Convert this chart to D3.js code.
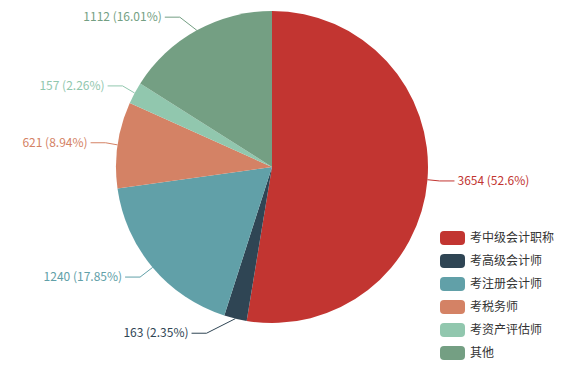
<!doctype html>
<html lang="zh">
<head>
<meta charset="utf-8">
<title>pie</title>
<script src="https://cdn.jsdelivr.net/npm/d3@7"></script>
<style>
  body { margin: 0; background: #fff; }
  text { font-family: "Noto Sans CJK SC", "Noto Sans", sans-serif; font-size: 12px; }
</style>
</head>
<body>
<svg id="chart" width="584" height="389"></svg>
<script>
// data
var names = ['考中级会计职称', '考高级会计师', '考注册会计师', '考税务师', '考资产评估师', '其他'];
var counts = [3654, 163, 1240, 621, 157, 1112];
var colors = ['#c23531', '#2f4554', '#61a0a8', '#d48265', '#91c7ae', '#749f83'];

var svg = d3.select('#chart');
var cx = 272, cy = 167, r = 156;
var total = d3.sum(counts);

var pie = d3.pie().sort(null).value(function(d) { return d; });
var arcs = pie(counts);
var arc = d3.arc().innerRadius(0).outerRadius(r);

var g = svg.append('g').attr('transform', 'translate(' + cx + ',' + cy + ')');

g.selectAll('path.slice')
  .data(arcs)
  .enter().append('path')
  .attr('class', 'slice')
  .attr('d', arc)
  .attr('fill', function(d, i) { return colors[i]; });

// labels: leader line goes out, then text x is pushed onto an outer circle
var len1 = 15, len2 = 15;
arcs.forEach(function(d, i) {
  var mid = (d.startAngle + d.endAngle) / 2;
  var dx = Math.sin(mid), dy = -Math.cos(mid);
  var side = dx < 0 ? -1 : 1;
  var x0 = r * dx, y0 = r * dy;
  var ly = (r + len1) * dy;
  var R = r + len1 + len2;
  var lx = side * Math.sqrt(R * R - ly * ly);
  var x2 = lx - side * 3;
  var x1 = x2 - side * len2;
  g.append('polyline')
    .attr('points', [[x0, y0], [x1, ly], [x2, ly]].join(' '))
    .attr('fill', 'none')
    .attr('stroke', colors[i])
    .attr('stroke-width', 1);
  var pct = +(counts[i] / total * 100).toFixed(2);
  g.append('text')
    .attr('x', lx)
    .attr('y', ly)
    .attr('dy', '0.35em')
    .attr('text-anchor', side < 0 ? 'end' : 'start')
    .attr('fill', colors[i])
    .text(counts[i] + ' (' + pct + '%)');
});

// legend
var legend = svg.append('g').attr('transform', 'translate(440,238)');
var item = legend.selectAll('g')
  .data(names)
  .enter().append('g')
  .attr('transform', function(d, i) { return 'translate(0,' + (i * 23) + ')'; });

item.append('rect')
  .attr('x', 0).attr('y', -7)
  .attr('width', 25).attr('height', 14)
  .attr('rx', 4).attr('ry', 4)
  .attr('fill', function(d, i) { return colors[i]; });

item.append('text')
  .attr('x', 30).attr('y', 0)
  .attr('dy', '0.35em')
  .attr('fill', '#333')
  .text(function(d) { return d; });
</script>
</body>
</html>
